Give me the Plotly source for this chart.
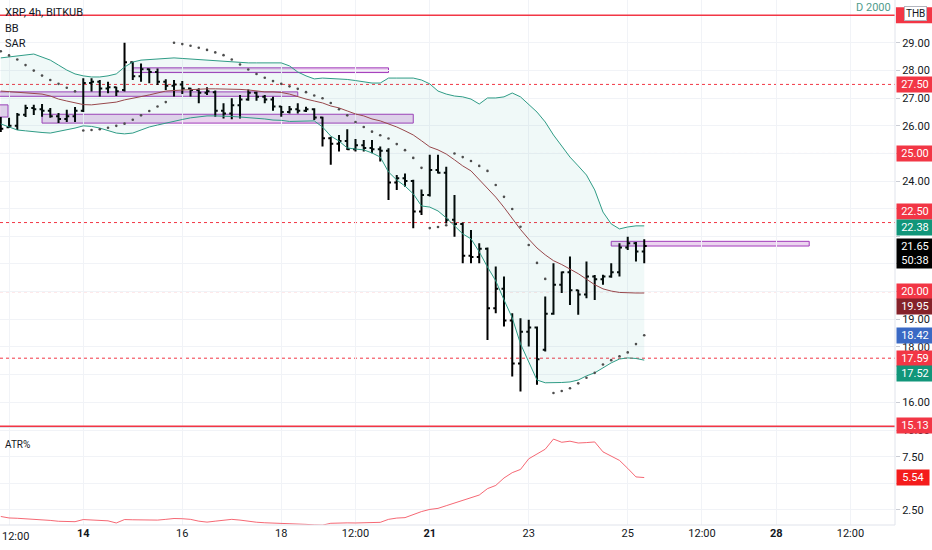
import pandas as pd
import plotly.graph_objects as go

# ---------------- data ----------------
times = pd.date_range("2022-02-12 08:00", periods=79, freq="4h")

bar_open = [26.20, 25.95, 26.00, 26.40, 26.65, 26.60, 26.55, 26.35, 26.25, 26.35,
            26.55, 27.55, 27.60, 27.35, 27.40, 27.30, 28.30, 27.80, 28.05, 27.95,
            27.60, 27.45, 27.50, 27.35, 27.30, 27.20, 27.22, 26.55, 26.45, 26.75,
            26.95, 27.20, 27.05, 26.95, 26.70, 26.50, 26.60, 26.55, 26.60, 26.30,
            25.55, 25.35, 25.45, 25.15, 25.30, 25.20, 25.15, 25.10, 23.95, 24.10,
            24.00, 22.90, 23.50, 24.40, 24.30, 22.60, 22.45, 21.30, 21.25, 21.55,
            19.40, 20.10, 18.95, 17.40, 18.55, 18.70, 17.90, 19.20, 20.25, 20.70,
            20.05, 19.90, 20.55, 20.45, 20.55, 20.70, 21.60, 21.75, 21.45]
bar_high = [26.32, 26.29, 26.47, 26.76, 26.76, 26.79, 26.65, 26.47, 26.58, 26.68,
            27.72, 27.72, 27.66, 27.60, 27.42, 29.01, 28.32, 28.26, 28.08, 28.08,
            27.69, 27.66, 27.62, 27.38, 27.36, 27.40, 27.28, 26.82, 27.00, 27.12,
            27.32, 27.24, 27.12, 27.05, 26.72, 26.72, 26.82, 26.69, 26.64, 26.33,
            25.61, 25.67, 25.88, 25.52, 25.49, 25.49, 25.25, 25.19, 24.22, 24.28,
            24.05, 23.70, 24.95, 24.95, 24.52, 23.50, 22.50, 22.23, 21.75, 21.60,
            20.91, 20.55, 19.22, 19.04, 18.98, 18.74, 19.82, 21.03, 20.73, 21.27,
            20.07, 21.09, 20.60, 20.61, 21.03, 21.75, 21.99, 21.80, 21.90]
bar_low = [25.78, 25.92, 25.85, 26.32, 26.39, 26.33, 26.29, 26.10, 26.14, 26.14,
           26.50, 27.24, 27.06, 27.18, 27.08, 27.24, 27.66, 27.60, 27.54, 27.48,
           27.30, 27.06, 27.15, 27.06, 26.82, 27.12, 26.33, 26.27, 26.24, 26.27,
           26.91, 26.91, 26.82, 26.55, 26.33, 26.45, 26.45, 26.50, 26.21, 25.25,
           24.59, 25.07, 25.13, 25.07, 25.07, 25.01, 24.71, 23.32, 23.68, 23.80,
           22.29, 22.77, 23.44, 24.28, 22.47, 21.99, 21.03, 21.03, 21.03, 18.25,
           19.22, 18.74, 16.93, 16.38, 18.01, 16.63, 17.83, 19.16, 19.95, 19.52,
           19.16, 19.76, 19.70, 20.25, 20.50, 20.55, 21.51, 21.09, 21.03]
bar_close = [25.90, 26.00, 26.40, 26.65, 26.60, 26.55, 26.35, 26.25, 26.35, 26.55,
             27.55, 27.60, 27.35, 27.40, 27.25, 28.30, 27.80, 28.05, 27.95, 27.60,
             27.45, 27.50, 27.35, 27.30, 27.20, 27.25, 26.55, 26.45, 26.75, 26.95,
             27.20, 27.05, 26.95, 26.70, 26.50, 26.60, 26.55, 26.60, 26.30, 25.55,
             25.35, 25.45, 25.15, 25.30, 25.20, 25.15, 25.10, 23.95, 24.10, 24.00,
             22.90, 23.50, 24.40, 24.30, 22.60, 22.45, 21.30, 21.25, 21.55, 19.40,
             20.10, 18.95, 17.40, 18.55, 18.70, 17.55, 19.20, 20.25, 20.70, 20.05,
             19.90, 20.55, 20.45, 20.55, 20.70, 21.60, 21.75, 21.45, 21.65]

bb_upper = [28.46, 28.49, 28.53, 28.57, 28.60, 28.49, 28.38, 28.20, 28.02, 27.88,
            27.81, 27.77, 27.77, 27.81, 27.88, 28.13, 28.31, 28.38, 28.40, 28.42,
            28.44, 28.46, 28.44, 28.42, 28.38, 28.37, 28.35, 28.33, 28.31, 28.29,
            28.28, 28.28, 28.28, 28.28, 28.28, 28.17, 27.95, 27.81, 27.70, 27.73,
            27.72, 27.70, 27.68, 27.64, 27.59, 27.55, 27.55, 27.73, 27.73, 27.73,
            27.73, 27.66, 27.52, 27.26, 27.15, 27.08, 27.05, 26.97, 26.79, 27.01,
            27.01, 27.05, 27.19, 27.05, 26.76, 26.50, 26.14, 25.67, 25.27, 24.87,
            24.55, 24.22, 23.68, 22.88, 22.45, 22.27, 22.34, 22.38, 22.38]
bb_basis = [27.26, 27.24, 27.23, 27.21, 27.19, 27.15, 27.08, 26.97, 26.90, 26.83,
            26.77, 26.76, 26.79, 26.83, 26.86, 26.94, 27.01, 27.06, 27.12, 27.19,
            27.26, 27.28, 27.30, 27.30, 27.32, 27.34, 27.34, 27.34, 27.34, 27.32,
            27.30, 27.26, 27.23, 27.23, 27.21, 27.15, 27.05, 26.97, 26.90, 26.83,
            26.72, 26.65, 26.54, 26.43, 26.36, 26.25, 26.18, 26.07, 25.96, 25.82,
            25.67, 25.46, 25.24, 25.13, 24.98, 24.77, 24.55, 24.37, 24.05, 23.75,
            23.42, 23.05, 22.65, 22.25, 21.90, 21.58, 21.33, 21.12, 20.98, 20.82,
            20.65, 20.45, 20.25, 20.10, 20.02, 19.97, 19.95, 19.95, 19.95]
bb_lower = [26.07, 25.96, 25.85, 25.82, 25.78, 25.76, 25.74, 25.80, 25.85, 25.92,
            26.00, 25.98, 25.92, 25.82, 25.74, 25.71, 25.74, 25.85, 25.96, 26.03,
            26.10, 26.18, 26.23, 26.29, 26.32, 26.36, 26.36, 26.36, 26.34, 26.32,
            26.30, 26.29, 26.25, 26.21, 26.20, 26.16, 26.16, 26.18, 26.18, 25.96,
            25.63, 25.45, 25.20, 25.16, 25.13, 25.02, 24.87, 24.33, 24.04, 23.82,
            23.54, 23.10, 23.06, 22.92, 22.67, 22.38, 22.09, 21.91, 21.44, 20.89,
            20.39, 19.70, 19.05, 18.11, 17.45, 16.80, 16.70, 16.70, 16.71, 16.73,
            16.80, 16.95, 17.06, 17.24, 17.42, 17.56, 17.60, 17.58, 17.52]

sar = [28.70, 28.55, 28.40, 28.20, 28.00, 27.82, 27.66, 27.52, 27.38, 27.25,
       25.83, 25.85, 25.88, 25.93, 26.00, 26.08, 26.22, 26.38, 26.54, 26.70, 26.86,
       29.01, 28.96, 28.90, 28.83, 28.75, 28.66, 28.56, 28.40, 28.22,
       28.04, 27.88, 27.74, 27.62, 27.52, 27.43, 27.34, 27.22, 27.10, 27.00,
       26.83, 26.60, 26.38, 26.14, 25.96, 25.79, 25.66, 25.54, 25.34, 25.12,
       24.84, 24.48,
       22.30, 22.34, 22.40,
       25.00, 24.87, 24.73, 24.55, 24.37, 23.86, 23.43, 22.99, 22.35, 21.69, 21.04, 20.46,
       16.33, 16.40, 16.50, 16.68, 16.88, 17.06, 17.36, 17.52, 17.66, 17.80, 18.10, 18.42]

atr_pct = [1.89, 1.75, 1.72, 1.68, 1.62, 1.58, 1.52, 1.44, 1.42, 1.40,
           1.60, 1.55, 1.52, 1.48, 1.28, 1.60, 1.58, 1.57, 1.56, 1.55,
           1.62, 1.70, 1.68, 1.62, 1.45, 1.36, 1.45, 1.50, 1.62, 1.55,
           1.42, 1.35, 1.30, 1.28, 1.27, 1.26, 1.24, 1.15, 1.10, 1.08,
           1.25, 1.30, 1.29, 1.28, 1.28, 1.30, 1.34, 1.62, 1.74, 1.78,
           2.10, 2.35, 2.55, 2.65, 2.90, 3.15, 3.40, 3.62, 3.90, 4.50,
           4.80, 5.50, 6.00, 6.30, 7.30, 7.75, 8.20, 9.15, 8.85, 8.95,
           8.78, 8.82, 8.88, 7.95, 7.55, 7.15, 6.40, 5.60, 5.54]

# zones (purple rectangles): start, end, low, high
zone_start = ["2022-02-11 00:00", "2022-02-13 04:00", "2022-02-11 00:00", "2022-02-15 00:00", "2022-02-24 16:00"]
zone_end = ["2022-02-12 11:30", "2022-02-20 16:00", "2022-02-18 08:00", "2022-02-20 04:00", "2022-02-28 16:00"]
zone_low = [26.32, 26.10, 27.07, 27.93, 21.65]
zone_high = [26.76, 26.42, 27.23, 28.10, 21.82]

dashed_levels = [27.50, 25.00, 22.50, 20.00, 17.59]
solid_levels = [30.00, 15.13]

x_tick_times = ["2022-02-12 12:00", "2022-02-14 00:00", "2022-02-16 00:00", "2022-02-18 00:00",
                "2022-02-19 12:00", "2022-02-21 00:00", "2022-02-23 00:00", "2022-02-25 00:00",
                "2022-02-26 12:00", "2022-02-28 00:00", "2022-03-01 12:00"]
x_tick_text = ["", "<b>14</b>", "16", "18", "12:00", "<b>21</b>", "23", "25", "12:00", "<b>28</b>", "12:00"]
first_tick_text = "12:00"
price_ticks = [16, 17, 18, 19, 20, 21, 22, 23, 24, 25, 26, 27, 28, 29]
# labels hidden behind the coloured price-scale badges are left blank
price_tick_text = ["16.00", "", "18.00", "19.00", "", "", "", "", "24.00", "", "26.00", "27.00", "28.00", "29.00"]
atr_ticks = [2.5, 5.0, 7.5, 10.0]
atr_tick_text = ["2.50", "", "7.50", "10.00"]

# price-scale labels: value, text, background, pixel shift
scale_labels = [
    (27.50, "27.50", "#f23645", 0),
    (25.00, "25.00", "#f23645", 0),
    (22.50, "22.50", "#f23645", 11),
    (22.38, "22.38", "#11967a", -2),
    (21.65, "21.65<br>50:38", "#000000", -7),
    (20.00, "20.00", "#f23645", 0),
    (19.95, "19.95", "#85222a", -13),
    (18.42, "18.42", "#3a69c4", 0),
    (17.59, "17.59", "#f23645", 0),
    (17.52, "17.52", "#11967a", -13),
    (15.13, "15.13", "#f23645", 1),
]
atr_label = (5.54, "5.54", "#f41c1c")

# ---------------- style ----------------
TEAL = "#2f9c86"
MAROON = "#98484c"
RED = "#f23645"
FONT = "Roboto"
GRID = "#f1f3f7"

fig = go.Figure()
fig.add_trace(go.Scatter(x=times, y=bb_upper, mode="lines", line=dict(color=TEAL, width=1),
                         hoverinfo="skip", showlegend=False))
fig.add_trace(go.Scatter(x=times, y=bb_lower, mode="lines", line=dict(color=TEAL, width=1),
                         fill="tonexty", fillcolor="rgba(38,166,154,0.07)",
                         hoverinfo="skip", showlegend=False))
fig.add_trace(go.Scatter(x=times, y=bb_basis, mode="lines", line=dict(color=MAROON, width=1),
                         hoverinfo="skip", showlegend=False))
fig.add_trace(go.Scatter(x=times, y=sar, mode="markers",
                         marker=dict(size=2.6, color="#4d4d4d"), showlegend=False))
fig.add_trace(go.Ohlc(x=times, open=bar_open, high=bar_high, low=bar_low, close=bar_close,
                      increasing=dict(line=dict(color="#000000", width=2)),
                      decreasing=dict(line=dict(color="#000000", width=2)),
                      tickwidth=0.3, showlegend=False))
fig.add_trace(go.Scatter(x=times, y=atr_pct, mode="lines", yaxis="y2",
                         line=dict(color="rgba(242,54,69,0.75)", width=1), showlegend=False))

shapes = []
for s, e, lo, hi in zip(zone_start, zone_end, zone_low, zone_high):
    shapes.append(dict(type="rect", xref="x", yref="y", x0=s, x1=e, y0=lo, y1=hi,
                       fillcolor="rgba(156,39,176,0.2)", line=dict(color="#a23bbb", width=1),
                       layer="below"))
for lv in dashed_levels:
    shapes.append(dict(type="line", xref="paper", yref="y", x0=0, x1=1, y0=lv, y1=lv,
                       line=dict(color=RED, width=1, dash="3px,3px"), layer="below"))
for lv in solid_levels:
    shapes.append(dict(type="line", xref="paper", yref="y", x0=0, x1=1, y0=lv, y1=lv,
                       line=dict(color=RED, width=1.5)))
# red scale marker of the 30.00 line (its text is hidden under the THB badge)
shapes.append(dict(type="rect", xref="paper", yref="y", x0=1.001, x1=1 + 37 / 895,
                   y0=solid_levels[0] - 0.29, y1=solid_levels[0] + 0.29,
                   fillcolor=RED, line=dict(width=0)))
# pane separator, scale borders
shapes.append(dict(type="line", xref="paper", yref="paper", x0=0, x1=1, y0=0.1857, y1=0.1857,
                   line=dict(color="#e0e3eb", width=1)))
shapes.append(dict(type="line", xref="paper", yref="paper", x0=1, x1=1, y0=0, y1=1,
                   line=dict(color="#e0e3eb", width=1)))
shapes.append(dict(type="line", xref="paper", yref="paper", x0=0, x1=1, y0=0, y1=0,
                   line=dict(color="#e0e3eb", width=1)))

annotations = []
for val, txt, bg, shift in scale_labels:
    annotations.append(dict(xref="paper", yref="y", x=1, y=val, xanchor="left", yanchor="middle",
                            xshift=1, yshift=shift, text=txt, showarrow=False, bgcolor=bg,
                            width=34, borderpad=1,
                            font=dict(family=FONT, size=11, color="#ffffff")))
annotations.append(dict(xref="paper", yref="y2", x=1, y=atr_label[0], xanchor="left", yanchor="middle",
                        xshift=1, text=atr_label[1], showarrow=False, bgcolor=atr_label[2],
                        width=30, borderpad=1, font=dict(family=FONT, size=11, color="#ffffff")))
annotations.append(dict(xref="paper", yref="paper", x=1, y=1, xanchor="left", yanchor="top",
                        xshift=9, yshift=-6, text="THB", showarrow=False, bgcolor="#ffffff",
                        bordercolor="#b2b5be", borderwidth=1, borderpad=1,
                        font=dict(family=FONT, size=10, color="#131722")))
annotations.append(dict(xref="paper", yref="paper", x=1, y=1, xanchor="right", yanchor="top",
                        xshift=-2, yshift=1, text="D 2000", showarrow=False,
                        font=dict(family=FONT, size=11, color="#4f9c8c")))
for txt, ypix, sz in [("XRP, 4h, BITKUB", 12, 11), ("BB", 29, 11), ("SAR", 44, 11)]:
    annotations.append(dict(xref="paper", yref="paper", x=0, y=1 - ypix / 525, xanchor="left",
                            yanchor="middle", xshift=3, text=txt, showarrow=False,
                            font=dict(family=FONT, size=sz, color="#131722")))
annotations.append(dict(xref="paper", yref="paper", x=0, y=1 - 444 / 525, xanchor="left",
                        yanchor="middle", xshift=3, text="ATR%", showarrow=False,
                        font=dict(family=FONT, size=10, color="#131722")))
# first time label, kept inside the left edge
annotations.append(dict(xref="paper", yref="paper", x=0, y=0, xanchor="left", yanchor="top",
                        xshift=0, yshift=-3, text=first_tick_text, showarrow=False,
                        font=dict(family=FONT, size=11, color="#131722")))

fig.update_layout(
    width=932, height=550,
    margin=dict(l=0, r=37, t=0, b=25, autoexpand=False),
    paper_bgcolor="#ffffff", plot_bgcolor="#ffffff",
    showlegend=False,
    shapes=shapes, annotations=annotations,
    xaxis=dict(type="date", range=["2022-02-12 07:37", "2022-03-02 09:36"],
               tickmode="array", tickvals=x_tick_times, ticktext=x_tick_text,
               showgrid=True, gridcolor=GRID, zeroline=False, showline=False,
               ticks="", tickfont=dict(family=FONT, size=11, color="#131722"),
               rangeslider=dict(visible=False), anchor="y2"),
    yaxis=dict(domain=[0.1867, 1], range=[15.10, 30.556], side="right",
               tickmode="array", tickvals=price_ticks, ticktext=price_tick_text,
               showgrid=True, gridcolor=GRID, zeroline=False, showline=False,
               ticks="outside", ticklen=4, tickcolor="#c9ccd4",
               tickfont=dict(family=FONT, size=11, color="#131722")),
    yaxis2=dict(domain=[0, 0.1848], range=[1.09, 10.19], side="right",
                tickmode="array", tickvals=atr_ticks, ticktext=atr_tick_text,
                showgrid=True, gridcolor=GRID, zeroline=False, showline=False,
                ticks="outside", ticklen=4, tickcolor="#c9ccd4",
                tickfont=dict(family=FONT, size=11, color="#131722"), anchor="x"),
)

fig.write_html("out.html", config={"displayModeBar": False},
               post_script="document.body.style.margin='0';document.body.style.overflow='hidden';")
